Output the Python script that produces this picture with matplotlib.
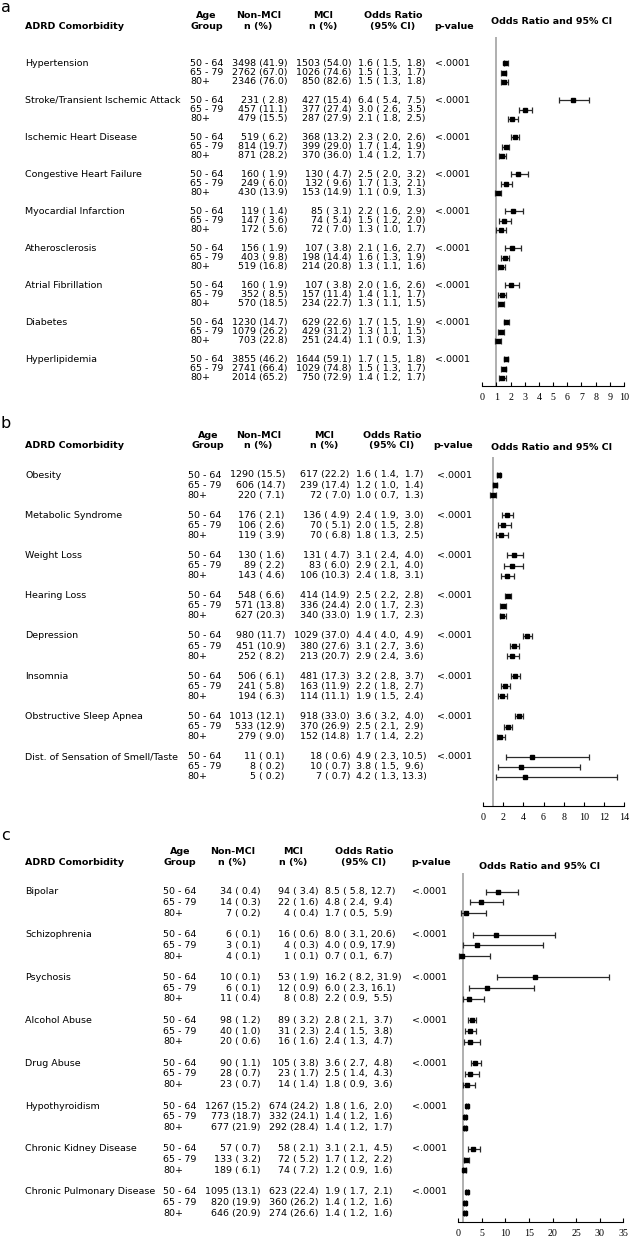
import matplotlib
matplotlib.use("Agg")
import matplotlib.pyplot as plt
from matplotlib.transforms import blended_transform_factory

# ---------------- data ----------------
age_groups = ["50 - 64", "65 - 79", "80+"]
p_value = "<.0001"

names_a = ["Hypertension", "Stroke/Transient Ischemic Attack", "Ischemic Heart Disease",
           "Congestive Heart Failure", "Myocardial Infarction", "Atherosclerosis",
           "Atrial Fibrillation", "Diabetes", "Hyperlipidemia"]
nonmci_n_a = [3498, 2762, 2346, 231, 457, 479, 519, 814, 871, 160, 249, 430, 119, 147, 172,
              156, 403, 519, 160, 352, 570, 1230, 1079, 703, 3855, 2741, 2014]
nonmci_pct_a = [41.9, 67.0, 76.0, 2.8, 11.1, 15.5, 6.2, 19.7, 28.2, 1.9, 6.0, 13.9, 1.4, 3.6, 5.6,
                1.9, 9.8, 16.8, 1.9, 8.5, 18.5, 14.7, 26.2, 22.8, 46.2, 66.4, 65.2]
mci_n_a = [1503, 1026, 850, 427, 377, 287, 368, 399, 370, 130, 132, 153, 85, 74, 72,
           107, 198, 214, 107, 157, 234, 629, 429, 251, 1644, 1029, 750]
mci_pct_a = [54.0, 74.6, 82.6, 15.4, 27.4, 27.9, 13.2, 29.0, 36.0, 4.7, 9.6, 14.9, 3.1, 5.4, 7.0,
             3.8, 14.4, 20.8, 3.8, 11.4, 22.7, 22.6, 31.2, 24.4, 59.1, 74.8, 72.9]
or_a = [1.6, 1.5, 1.5, 6.4, 3.0, 2.1, 2.3, 1.7, 1.4, 2.5, 1.7, 1.1, 2.2, 1.5, 1.3,
        2.1, 1.6, 1.3, 2.0, 1.4, 1.3, 1.7, 1.3, 1.1, 1.7, 1.5, 1.4]
lo_a = [1.5, 1.3, 1.3, 5.4, 2.6, 1.8, 2.0, 1.4, 1.2, 2.0, 1.3, 0.9, 1.6, 1.2, 1.0,
        1.6, 1.3, 1.1, 1.6, 1.1, 1.1, 1.5, 1.1, 0.9, 1.5, 1.3, 1.2]
hi_a = [1.8, 1.7, 1.8, 7.5, 3.5, 2.5, 2.6, 1.9, 1.7, 3.2, 2.1, 1.3, 2.9, 2.0, 1.7,
        2.7, 1.9, 1.6, 2.6, 1.7, 1.5, 1.9, 1.5, 1.3, 1.8, 1.7, 1.7]

names_b = ["Obesity", "Metabolic Syndrome", "Weight Loss", "Hearing Loss", "Depression",
           "Insomnia", "Obstructive Sleep Apnea", "Dist. of Sensation of Smell/Taste"]
nonmci_n_b = [1290, 606, 220, 176, 106, 119, 130, 89, 143, 548, 571, 627, 980, 451, 252,
              506, 241, 194, 1013, 533, 279, 11, 8, 5]
nonmci_pct_b = [15.5, 14.7, 7.1, 2.1, 2.6, 3.9, 1.6, 2.2, 4.6, 6.6, 13.8, 20.3, 11.7, 10.9, 8.2,
                6.1, 5.8, 6.3, 12.1, 12.9, 9.0, 0.1, 0.2, 0.2]
mci_n_b = [617, 239, 72, 136, 70, 70, 131, 83, 106, 414, 336, 340, 1029, 380, 213,
           481, 163, 114, 918, 370, 152, 18, 10, 7]
mci_pct_b = [22.2, 17.4, 7.0, 4.9, 5.1, 6.8, 4.7, 6.0, 10.3, 14.9, 24.4, 33.0, 37.0, 27.6, 20.7,
             17.3, 11.9, 11.1, 33.0, 26.9, 14.8, 0.6, 0.7, 0.7]
or_b = [1.6, 1.2, 1.0, 2.4, 2.0, 1.8, 3.1, 2.9, 2.4, 2.5, 2.0, 1.9, 4.4, 3.1, 2.9,
        3.2, 2.2, 1.9, 3.6, 2.5, 1.7, 4.9, 3.8, 4.2]
lo_b = [1.4, 1.0, 0.7, 1.9, 1.5, 1.3, 2.4, 2.1, 1.8, 2.2, 1.7, 1.7, 4.0, 2.7, 2.4,
        2.8, 1.8, 1.5, 3.2, 2.1, 1.4, 2.3, 1.5, 1.3]
hi_b = [1.7, 1.4, 1.3, 3.0, 2.8, 2.5, 4.0, 4.0, 3.1, 2.8, 2.3, 2.3, 4.9, 3.6, 3.6,
        3.7, 2.7, 2.4, 4.0, 2.9, 2.2, 10.5, 9.6, 13.3]

names_c = ["Bipolar", "Schizophrenia", "Psychosis", "Alcohol Abuse", "Drug Abuse",
           "Hypothyroidism", "Chronic Kidney Disease", "Chronic Pulmonary Disease"]
nonmci_n_c = [34, 14, 7, 6, 3, 4, 10, 6, 11, 98, 40, 20, 90, 28, 23,
              1267, 773, 677, 57, 133, 189, 1095, 820, 646]
nonmci_pct_c = [0.4, 0.3, 0.2, 0.1, 0.1, 0.1, 0.1, 0.1, 0.4, 1.2, 1.0, 0.6, 1.1, 0.7, 0.7,
                15.2, 18.7, 21.9, 0.7, 3.2, 6.1, 13.1, 19.9, 20.9]
mci_n_c = [94, 22, 4, 16, 4, 1, 53, 12, 8, 89, 31, 16, 105, 23, 14,
           674, 332, 292, 58, 72, 74, 623, 360, 274]
mci_pct_c = [3.4, 1.6, 0.4, 0.6, 0.3, 0.1, 1.9, 0.9, 0.8, 3.2, 2.3, 1.6, 3.8, 1.7, 1.4,
             24.2, 24.1, 28.4, 2.1, 5.2, 7.2, 22.4, 26.2, 26.6]
or_c = [8.5, 4.8, 1.7, 8.0, 4.0, 0.7, 16.2, 6.0, 2.2, 2.8, 2.4, 2.4, 3.6, 2.5, 1.8,
        1.8, 1.4, 1.4, 3.1, 1.7, 1.2, 1.9, 1.4, 1.4]
lo_c = [5.8, 2.4, 0.5, 3.1, 0.9, 0.1, 8.2, 2.3, 0.9, 2.1, 1.5, 1.3, 2.7, 1.4, 0.9,
        1.6, 1.2, 1.2, 2.1, 1.2, 0.9, 1.7, 1.2, 1.2]
hi_c = [12.7, 9.4, 5.9, 20.6, 17.9, 6.7, 31.9, 16.1, 5.5, 3.7, 3.8, 4.7, 4.8, 4.3, 3.6,
        2.0, 1.6, 1.7, 4.5, 2.2, 1.6, 2.1, 1.6, 1.6]

# ---------------- layout ----------------
W, H = 630, 1240
fig = plt.figure(figsize=(W / 100, H / 100), dpi=100)
FONT = "DejaVu Sans"
FS = 6.8


def fx(x):
    return x / W


def fy(y):
    return 1 - y / H


def padnum(v, w=4):
    s = f"{v:.1f}"
    return " " * (w - len(s)) + s


def draw_panel(label, names, n0, p0, n1, p1, orv, lo, hi, L):
    y0, dy = L["row0"], L["dy"]
    top, bot = L["top"], L["bot"]
    x0, x1 = L["ax_x0"], L["ax_x1"]
    ax = fig.add_axes([fx(x0), fy(bot), (x1 - x0) / W, (bot - top) / H])
    ax.set_xlim(0, L["xmax"])
    ax.set_ylim((bot - y0) / dy, (top - y0) / dy)
    rows = [g * 4 + i for g in range(len(names)) for i in range(3)]
    ax.axvline(1, color="#9a9a9a", lw=1.1, zorder=0)
    xerr = [[o - l for o, l in zip(orv, lo)], [h - o for o, h in zip(orv, hi)]]
    ax.errorbar(orv, rows, xerr=xerr, fmt="s", color="black", ecolor="#2a2a2a",
                elinewidth=0.9, capsize=2.4, capthick=0.9, markersize=3.4, zorder=3)
    for s in ["left", "right", "top"]:
        ax.spines[s].set_visible(False)
    ax.spines["bottom"].set_linewidth(0.8)
    ax.set_yticks([])
    ax.set_xticks(list(range(0, L["xmax"] + 1, L["step"])))
    ax.tick_params(axis="x", direction="in", length=3, width=0.8, pad=5.5, labelsize=7.2)
    for t in ax.get_xticklabels():
        t.set_fontfamily("Liberation Serif")
    ax.patch.set_alpha(0)

    tr = blended_transform_factory(fig.transFigure, ax.transData)
    kw = dict(transform=tr, fontsize=FS, family=FONT, va="center")
    for g, nm in enumerate(names):
        ax.text(fx(25), g * 4, nm, ha="left", **kw)
        ax.text(fx(L["p_x"]), g * 4, p_value, ha="left", **kw)
        for i in range(3):
            k = g * 3 + i
            r = g * 4 + i
            ax.text(fx(L["age_x"]), r, age_groups[i], ha="left", **kw)
            ax.text(fx(L["n0_x"]), r, f"{n0[k]} ({padnum(p0[k])})", ha="right", **kw)
            ax.text(fx(L["n1_x"]), r, f"{n1[k]} ({padnum(p1[k])})", ha="right", **kw)
            ax.text(fx(L["or_x"]), r, f"{orv[k]:.1f} ({padnum(lo[k])}, {padnum(hi[k])})",
                    ha="left", **kw)

    hk = dict(fontsize=FS, family=FONT, fontweight="bold", va="center", ha="center")
    h1, h2 = L["h1"], L["h2"]
    fig.text(fx(25), fy(h2), "ADRD Comorbidity", **{**hk, "ha": "left"})
    fig.text(fx(L["hage"]), fy(h1), "Age", **hk)
    fig.text(fx(L["hage"]), fy(h2), "Group", **hk)
    fig.text(fx(L["hn0"]), fy(h1), "Non-MCI", **hk)
    fig.text(fx(L["hn0"]), fy(h2), "n (%)", **hk)
    fig.text(fx(L["hn1"]), fy(h1), "MCI", **hk)
    fig.text(fx(L["hn1"]), fy(h2), "n (%)", **hk)
    fig.text(fx(L["hor"]), fy(h1), "Odds Ratio", **hk)
    fig.text(fx(L["hor"]), fy(h2), "(95% CI)", **hk)
    fig.text(fx(L["hp"]), fy(h2), "p-value", **hk)
    fig.text(fx(L["tx"]), fy(L["ty"]), "Odds Ratio and 95% CI", **hk)
    fig.text(fx(1), fy(L["ly"]), label, fontsize=11.5, family=FONT, ha="left", va="center")


LA = dict(row0=63.3, dy=9.25, top=37, bot=385.7, ax_x0=482.3, ax_x1=624.0, xmax=10, step=1,
          age_x=190, n0_x=287.3, n1_x=351.7, or_x=358.3, p_x=435,
          h1=15.7, h2=26.7, hage=206.7, hn0=258.5, hn1=323, hor=393, hp=454,
          tx=551.7, ty=21, ly=8)
LB = dict(row0=475, dy=10.06, top=456.7, bot=805.7, ax_x0=483.0, ax_x1=624.3, xmax=14, step=2,
          age_x=187.7, n0_x=285, n1_x=350, or_x=356, p_x=436.7,
          h1=435, h2=446, hage=208.3, hn0=258.3, hn1=323.7, hor=392, hp=453,
          tx=551.7, ty=448, ly=424)
LC = dict(row0=891.7, dy=10.72, top=873.3, bot=1221.7, ax_x0=458.3, ax_x1=623.3, xmax=35, step=5,
          age_x=163.3, n0_x=260.7, n1_x=318.3, or_x=325, p_x=411.7,
          h1=851.7, h2=862.7, hage=180, hn0=232.5, hn1=293, hor=364, hp=431,
          tx=540, ty=866.7, ly=835)

draw_panel("a", names_a, nonmci_n_a, nonmci_pct_a, mci_n_a, mci_pct_a, or_a, lo_a, hi_a, LA)
draw_panel("b", names_b, nonmci_n_b, nonmci_pct_b, mci_n_b, mci_pct_b, or_b, lo_b, hi_b, LB)
draw_panel("c", names_c, nonmci_n_c, nonmci_pct_c, mci_n_c, mci_pct_c, or_c, lo_c, hi_c, LC)

fig.savefig("out.png", dpi=100, facecolor="white")
